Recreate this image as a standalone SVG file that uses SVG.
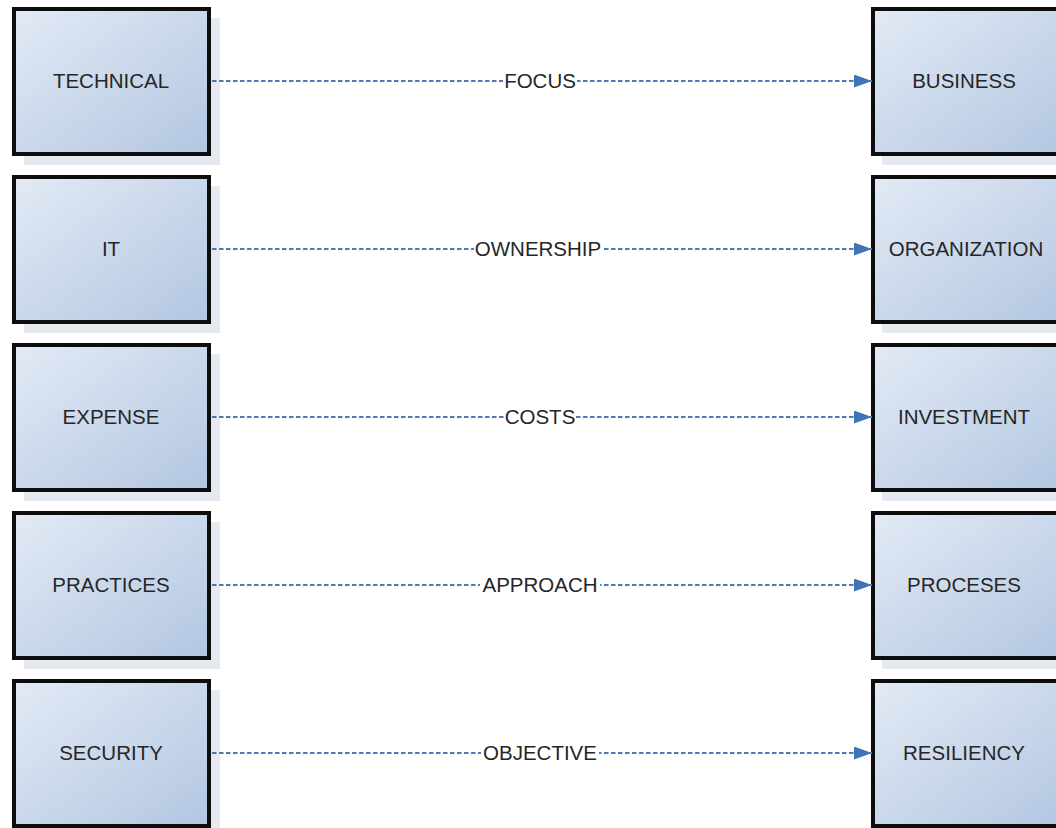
<svg xmlns="http://www.w3.org/2000/svg" width="1056" height="828" viewBox="0 0 1056 828">
<defs>
<linearGradient id="g" x1="0" y1="0" x2="1" y2="1">
<stop offset="0" stop-color="#e3eaf5"/>
<stop offset="1" stop-color="#b2c6e1"/>
</linearGradient>
<marker id="ah" markerWidth="18" markerHeight="13" refX="18" refY="6.5" orient="auto" markerUnits="userSpaceOnUse">
<path d="M0,0 L18,6.5 L0,13 Z" fill="#3f74ba"/>
</marker>
<style>
.sh{fill:#e5eaf1}
.bx{fill:url(#g);stroke:#0d0d0d;stroke-width:4}
.t{font-family:"Liberation Sans",Arial,sans-serif;font-size:20.5px;fill:#262626;text-anchor:middle;dominant-baseline:central}
.c{stroke:#4d7ab5;stroke-width:2;stroke-dasharray:4.5 2.5;fill:none}
.lb{fill:#fff}
</style>
</defs>
<rect width="1056" height="828" fill="#fff"/>
<g id="n-technical"><rect class="sh" x="24" y="18" width="196" height="147"/><rect class="bx" x="14" y="9" width="195" height="145"/><text class="t" x="111" y="80">TECHNICAL</text></g>
<g id="n-it"><rect class="sh" x="24" y="186" width="196" height="147"/><rect class="bx" x="14" y="177" width="195" height="145"/><text class="t" x="111" y="248">IT</text></g>
<g id="n-expense"><rect class="sh" x="24" y="354" width="196" height="147"/><rect class="bx" x="14" y="345" width="195" height="145"/><text class="t" x="111" y="416">EXPENSE</text></g>
<g id="n-practices"><rect class="sh" x="24" y="522" width="196" height="147"/><rect class="bx" x="14" y="513" width="195" height="145"/><text class="t" x="111" y="584">PRACTICES</text></g>
<g id="n-security"><rect class="sh" x="24" y="690" width="196" height="147"/><rect class="bx" x="14" y="681" width="195" height="145"/><text class="t" x="111" y="752">SECURITY</text></g>
<g id="n-business"><rect class="sh" x="882" y="18" width="196" height="147"/><rect class="bx" x="873" y="9" width="195" height="145"/><text class="t" x="964" y="80">BUSINESS</text></g>
<g id="n-organization"><rect class="sh" x="882" y="186" width="196" height="147"/><rect class="bx" x="873" y="177" width="195" height="145"/><text class="t" x="966" y="248">ORGANIZATION</text></g>
<g id="n-investment"><rect class="sh" x="882" y="354" width="196" height="147"/><rect class="bx" x="873" y="345" width="195" height="145"/><text class="t" x="964" y="416">INVESTMENT</text></g>
<g id="n-proceses"><rect class="sh" x="882" y="522" width="196" height="147"/><rect class="bx" x="873" y="513" width="195" height="145"/><text class="t" x="964" y="584">PROCESES</text></g>
<g id="n-resiliency"><rect class="sh" x="882" y="690" width="196" height="147"/><rect class="bx" x="873" y="681" width="195" height="145"/><text class="t" x="964" y="752">RESILIENCY</text></g>
<g id="connectors">
<line class="c" x1="212" y1="81" x2="872" y2="81" marker-end="url(#ah)"/>
<line class="c" x1="212" y1="249" x2="872" y2="249" marker-end="url(#ah)"/>
<line class="c" x1="212" y1="417" x2="872" y2="417" marker-end="url(#ah)"/>
<line class="c" x1="212" y1="585" x2="872" y2="585" marker-end="url(#ah)"/>
<line class="c" x1="212" y1="753" x2="872" y2="753" marker-end="url(#ah)"/>
<rect class="lb" x="503" y="69" width="74" height="24"/>
<text class="t" x="540" y="80">FOCUS</text>
<rect class="lb" x="474" y="237" width="129" height="24"/>
<text class="t" x="538" y="248">OWNERSHIP</text>
<rect class="lb" x="504" y="405" width="72" height="24"/>
<text class="t" x="540" y="416">COSTS</text>
<rect class="lb" x="480" y="573" width="120" height="24"/>
<text class="t" x="540" y="584">APPROACH</text>
<rect class="lb" x="481" y="741" width="118" height="24"/>
<text class="t" x="540" y="752">OBJECTIVE</text>
</g>
</svg>
